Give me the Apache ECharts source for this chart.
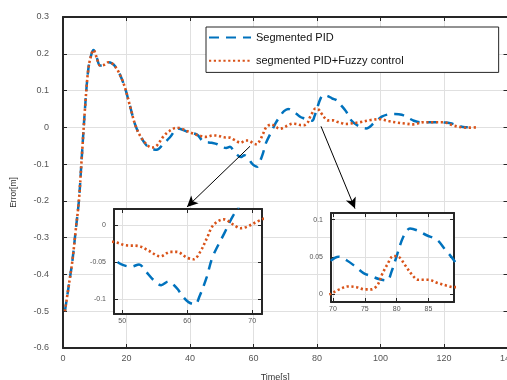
<!DOCTYPE html>
<html>
<head>
<meta charset="utf-8">
<script src="https://cdn.jsdelivr.net/npm/echarts@6/dist/echarts.min.js"></script>
<style>
  html, body { margin: 0; padding: 0; background: #fff; }
  #chart { width: 507px; height: 380px; }
</style>
</head>
<body>
<div id="chart"></div>
<script>
// Tracking error of the two controllers over time
const pidTime = [0.6, 2, 3, 4, 5, 6, 7, 8, 9, 9.6, 10.6, 11.7, 13, 14.3, 16.4, 19, 21.1, 22.7, 24.3,
  26.4, 28, 29.5, 31.6, 33.7, 36.2, 39.4, 42.2, 44.2, 46.8, 48.6, 49.9, 51.4, 52.6, 53.7, 54.7, 56,
  57.1, 58.4, 59.3, 60.2, 61.2, 61.9, 63, 63.9, 65.7, 67, 68.5, 69.6, 70.9, 72.2, 73.5, 74.8, 76,
  77.2, 78.5, 79.2, 79.9, 81.1, 82.1, 83.4, 84.7, 86.3, 87.6, 89.1, 90.9, 93, 95.5, 98, 100.4,
  102.4, 104.5, 106.7, 108.7, 110.5, 112.4, 115, 117.7, 120, 122, 124, 126, 127.5];
const pidError = [-0.5, -0.42, -0.36, -0.28, -0.2, -0.07, 0.06, 0.16, 0.2, 0.21, 0.19, 0.168, 0.17,
  0.177, 0.166, 0.121, 0.058, 0.008, -0.023, -0.05, -0.058, -0.061, -0.045, -0.027, -0.003, -0.013,
  -0.02, -0.038, -0.042, -0.046, -0.053, -0.056, -0.053, -0.063, -0.073, -0.081, -0.076, -0.085,
  -0.096, -0.104, -0.107, -0.096, -0.07, -0.043, -0.011, 0.012, 0.032, 0.044, 0.05, 0.045, 0.037,
  0.028, 0.024, 0.02, 0.018, 0.03, 0.048, 0.078, 0.088, 0.085, 0.079, 0.073, 0.06, 0.044, 0.018,
  0.004, -0.003, 0.012, 0.029, 0.035, 0.036, 0.034, 0.026, 0.018, 0.014, 0.014, 0.014, 0.013,
  0.011, 0.006, 0.001, 0];

const fuzzyTime = [0.6, 2, 3, 4, 5, 6, 7, 8, 9, 9.6, 10.6, 11.7, 13, 14.3, 16.4, 19, 21.1, 22.7,
  24.3, 26.4, 28, 29.5, 31.6, 33.5, 35.8, 37.5, 39, 41, 43.1, 45, 47.3, 48.7, 50.5, 52.5, 54, 55.9,
  57.4, 58.4, 60, 61, 62, 63, 64, 65.6, 67.1, 68.2, 69.2, 71, 72.4, 73.7, 75, 76, 77, 77.7, 78.5,
  79.5, 80.3, 81.3, 82.4, 83.4, 85, 86.3, 87.9, 89, 90.4, 93.5, 97, 99.8, 102.5, 105.1, 108, 110.3,
  113.5, 117, 119.8, 122.9, 125, 127.1, 130.3];
const fuzzyError = [-0.5, -0.42, -0.36, -0.28, -0.2, -0.07, 0.06, 0.16, 0.2, 0.21, 0.19, 0.168,
  0.17, 0.177, 0.166, 0.121, 0.058, 0.008, -0.023, -0.047, -0.055, -0.05, -0.025, -0.01, -0.001,
  -0.004, -0.01, -0.017, -0.023, -0.026, -0.022, -0.0225, -0.027, -0.028, -0.034, -0.042, -0.036,
  -0.036, -0.044, -0.046, -0.036, -0.018, 0, 0.008, 0.001, -0.004, -0.002, 0.006, 0.01, 0.009,
  0.006, 0.006, 0.012, 0.026, 0.039, 0.051, 0.05, 0.039, 0.026, 0.019, 0.019, 0.015, 0.011, 0.009,
  0.01, 0.014, 0.02, 0.022, 0.017, 0.013, 0.01, 0.008, 0.014, 0.014, 0.014, 0.005, 0.001, -0.001, 0];

const seriesNames = ['Segmented PID', 'segmented PID+Fuzzy control'];
const xName = 'Time[s]';
const yName = 'Error[m]';

// Zoom windows: [xMin, xMax, yMin, yMax]
const zoomA = [48.75, 71.5, -0.12, 0.022];
const zoomATicksX = [50, 60, 70];
const zoomATicksY = [-0.1, -0.05, 0];
const zoomB = [69.7, 89, -0.011, 0.109];
const zoomBTicksX = [70, 75, 80, 85];
const zoomBTicksY = [0, 0.05, 0.1];

// Arrow anchors in data coordinates: [from, to]
const arrowA = [[58.9, -0.0515], [39.05, -0.2165]];
const arrowB = [[81.26, 0.0027], [91.97, -0.221]];

const pidData = pidTime.map((t, i) => [t, pidError[i]]);
const fuzzyData = fuzzyTime.map((t, i) => [t, fuzzyError[i]]);

const FONT = 'Liberation Sans, Arial, Helvetica, sans-serif';
const DARK = '#262626';
const LABEL = '#555';
const GRIDC = '#e0e0e0';
const BLUE = '#0072BD';
const ORANGE = '#D95319';

function boxAxis(grid, pos, range, opts) {
  const o = Object.assign({ labels: false, split: false, z: 0, custom: null, interval: null, fontSize: 9, margin: 6 }, opts || {});
  const ax = {
    type: 'value',
    gridIndex: grid,
    position: pos,
    min: range[0],
    max: range[1],
    z: o.z,
    axisLine: { show: true, onZero: false, lineStyle: { color: DARK, width: 2 } },
    axisTick: { show: true, inside: true, length: 4, lineStyle: { color: DARK, width: 1 } },
    axisLabel: {
      show: o.labels, color: LABEL, fontSize: o.fontSize, fontFamily: FONT, margin: o.margin,
      showMinLabel: true, showMaxLabel: true
    },
    splitLine: { show: o.split, lineStyle: { color: GRIDC, width: 1 } }
  };
  if (o.interval != null) ax.interval = o.interval;
  if (o.custom) {
    ax.axisTick.customValues = o.custom;
    ax.axisLabel.customValues = o.custom;
  }
  return ax;
}

function lineSeries(name, data, color, dashed, xi, yi, z) {
  return {
    name: name,
    type: 'line',
    data: data,
    xAxisIndex: xi,
    yAxisIndex: yi,
    z: z,
    smooth: 0.35,
    symbol: 'none',
    showSymbol: false,
    clip: true,
    lineStyle: dashed
      ? { color: color, width: 2.5, type: [10, 7], cap: 'butt' }
      : { color: color, width: 2.6, type: [2.2, 2.6], cap: 'butt' },
    itemStyle: { color: color }
  };
}

const chart = echarts.init(document.getElementById('chart'), null, { renderer: 'canvas' });

chart.setOption({
  animation: false,
  backgroundColor: '#fff',
  textStyle: { fontFamily: FONT },
  legend: {
    data: seriesNames,
    orient: 'vertical',
    left: 206,
    top: 27,
    padding: [5, 95, 6, 2],
    itemGap: 12,
    itemWidth: 42,
    itemHeight: 14,
    borderColor: DARK,
    borderWidth: 1,
    backgroundColor: '#fff',
    itemStyle: { opacity: 0 },
    textStyle: { color: '#111', fontSize: 11, fontFamily: FONT }
  },
  grid: [
    { left: 63, top: 17, width: 444.5, height: 331, outerBoundsMode: 'none', containLabel: false },
    { left: 114, top: 209, width: 148, height: 105, outerBoundsMode: 'none', show: true, backgroundColor: '#fff', borderWidth: 0, z: 10 },
    { left: 331, top: 213, width: 123, height: 89, outerBoundsMode: 'none', show: true, backgroundColor: '#fff', borderWidth: 0, z: 10 }
  ],
  xAxis: [
    Object.assign(boxAxis(0, 'bottom', [0, 140], { labels: true, split: true, interval: 20, margin: 6 }), {
      name: xName, nameLocation: 'middle', nameGap: 25,
      nameTextStyle: { color: '#333', fontSize: 9, fontFamily: FONT, padding: [0, 20, 0, 0] }
    }),
    boxAxis(0, 'top', [0, 140], { interval: 20 }),
    boxAxis(1, 'bottom', [zoomA[0], zoomA[1]], { labels: true, split: true, custom: zoomATicksX, z: 11, fontSize: 7, margin: 4 }),
    boxAxis(1, 'top', [zoomA[0], zoomA[1]], { custom: zoomATicksX, z: 11 }),
    boxAxis(2, 'bottom', [zoomB[0], zoomB[1]], { labels: true, split: true, custom: zoomBTicksX, z: 11, fontSize: 7, margin: 4 }),
    boxAxis(2, 'top', [zoomB[0], zoomB[1]], { custom: zoomBTicksX, z: 11 })
  ],
  yAxis: [
    Object.assign(boxAxis(0, 'left', [-0.6, 0.3], { labels: true, split: true, interval: 0.1, margin: 14 }), {
      name: yName, nameLocation: 'middle', nameGap: 45, nameRotate: 90,
      nameTextStyle: { color: '#333', fontSize: 8.5, fontFamily: FONT, padding: [0, 20, 0, 0] }
    }),
    boxAxis(0, 'right', [-0.6, 0.3], { interval: 0.1 }),
    boxAxis(1, 'left', [zoomA[2], zoomA[3]], { labels: true, split: true, custom: zoomATicksY, z: 11, fontSize: 7, margin: 8 }),
    boxAxis(1, 'right', [zoomA[2], zoomA[3]], { custom: zoomATicksY, z: 11 }),
    boxAxis(2, 'left', [zoomB[2], zoomB[3]], { labels: true, split: true, custom: zoomBTicksY, z: 11, fontSize: 7, margin: 8 }),
    boxAxis(2, 'right', [zoomB[2], zoomB[3]], { custom: zoomBTicksY, z: 11 })
  ],
  series: [
    Object.assign(lineSeries(seriesNames[0], pidData, BLUE, true, 0, 0, 2), {
      markLine: {
        silent: true,
        animation: false,
        symbol: ['none', 'arrow'],
        symbolSize: [8, 11],
        label: { show: false },
        lineStyle: { color: '#000', width: 1, type: 'solid' },
        emphasis: { disabled: true },
        data: [
          [{ coord: arrowA[0] }, { coord: arrowA[1] }],
          [{ coord: arrowB[0] }, { coord: arrowB[1] }]
        ]
      }
    }),
    lineSeries(seriesNames[1], fuzzyData, ORANGE, false, 0, 0, 3),
    lineSeries(seriesNames[0], pidData, BLUE, true, 2, 2, 12),
    lineSeries(seriesNames[1], fuzzyData, ORANGE, false, 2, 2, 13),
    lineSeries(seriesNames[0], pidData, BLUE, true, 4, 4, 12),
    lineSeries(seriesNames[1], fuzzyData, ORANGE, false, 4, 4, 13)
  ]
});
</script>
</body>
</html>
